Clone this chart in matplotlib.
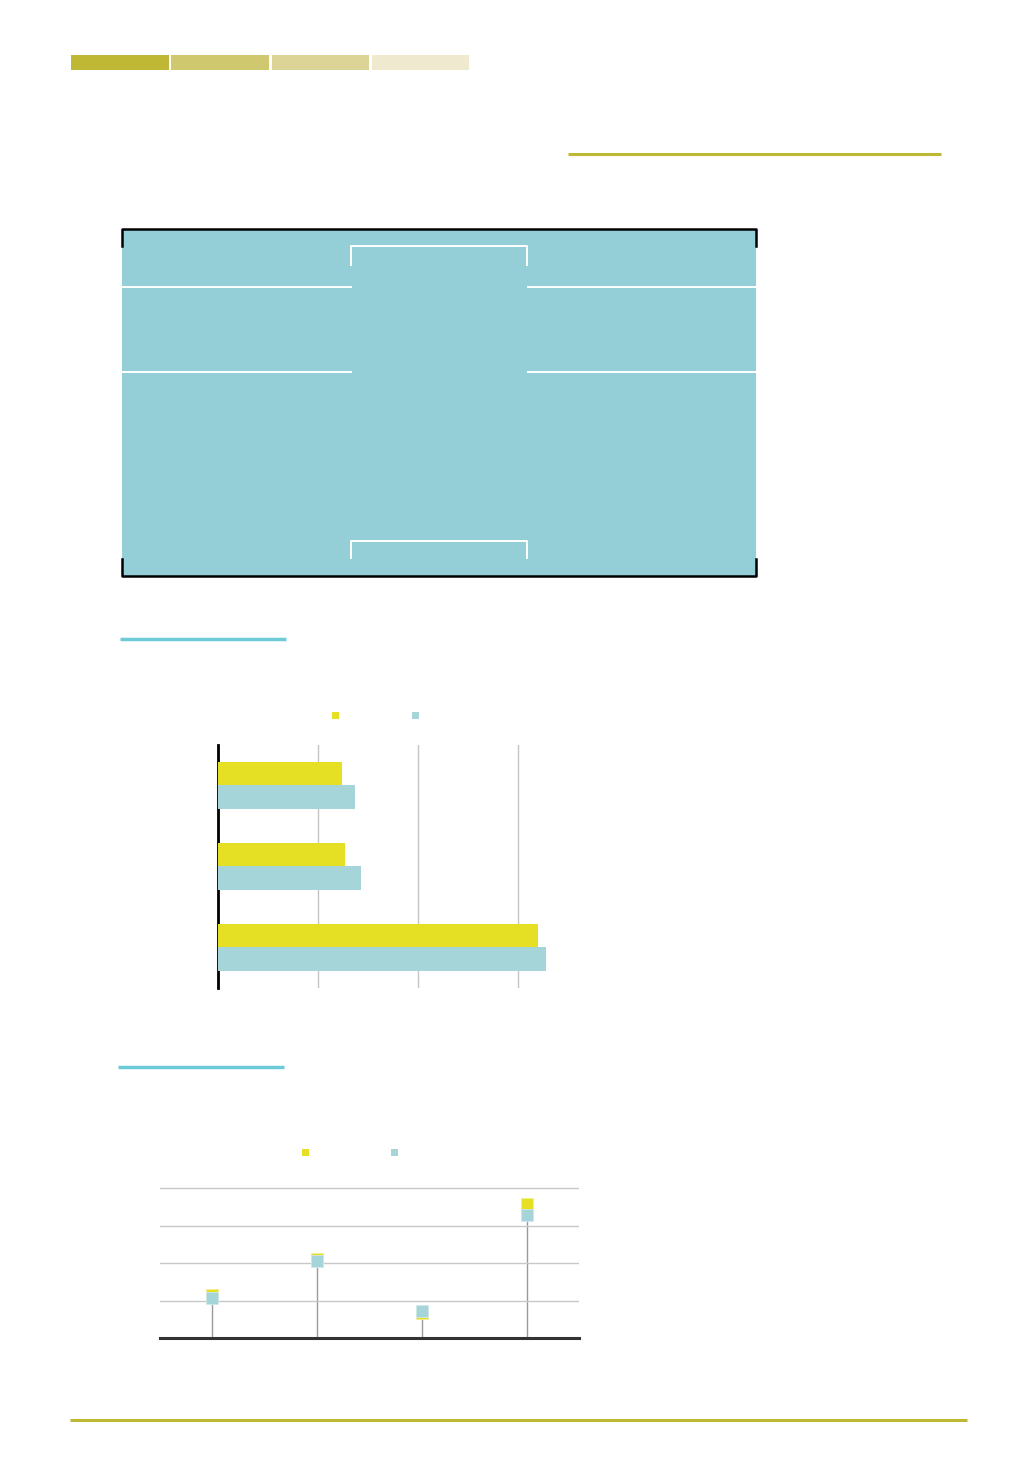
import matplotlib
matplotlib.use("Agg")
from matplotlib import pyplot as plt
from matplotlib.patches import Rectangle
import numpy as np

W, H = 1036, 1476

# bar chart data (3 groups, two series)
bar_groups = [0, 1, 2]
bar_yellow = [1.24, 1.27, 3.20]
bar_teal = [1.37, 1.43, 3.28]
bar_ticks = [0, 1, 2, 3]

# lollipop data (4 categories, two series)
dot_cats = [0, 1, 2, 3]
dot_yellow = [1.15, 2.11, 0.67, 3.57]
dot_teal = [1.07, 2.05, 0.72, 3.27]
dot_ticks = [1, 2, 3, 4]

YELLOW = "#e6e024"
TEAL = "#a6d5d9"
OLIVE = "#bfb834"
CYAN = "#6ccbd6"


def px(x0, y0, x1, y1):
    """pixel box -> figure fraction rect"""
    return [x0 / W, 1 - y1 / H, (x1 - x0) / W, (y1 - y0) / H]


fig = plt.figure(figsize=(W / 100, H / 100), dpi=100)
fig.patch.set_facecolor("white")

# background layer for page decorations (pixel coords)
bg = fig.add_axes([0, 0, 1, 1])
bg.set_xlim(0, W)
bg.set_ylim(H, 0)
bg.axis("off")

# header colour strip
strip_cols = ["#bfb834", "#cfc86f", "#dcd497", "#efe9cf"]
for i, c in enumerate(strip_cols):
    bg.add_patch(Rectangle((71 + i * 100.3, 55), 97.5, 15, color=c, lw=0))

bg.plot([568, 941], [154, 154], color=OLIVE, lw=2.2, solid_capstyle="butt")
bg.plot([70, 967], [1420, 1420], color=OLIVE, lw=2.2, solid_capstyle="butt")
bg.plot([120, 286], [639, 639], color=CYAN, lw=2.5, solid_capstyle="butt")
bg.plot([118, 284], [1067, 1067], color=CYAN, lw=2.5, solid_capstyle="butt")

# court panel
bg.add_patch(Rectangle((122, 229), 634, 347, color="#94cfd8", lw=0))
wl = dict(color="white", lw=1.4, solid_capstyle="butt")
for yy in (287, 372):
    bg.plot([122, 352], [yy, yy], **wl)
    bg.plot([527, 756], [yy, yy], **wl)
bg.plot([351, 351, 527, 527], [266, 246, 246, 266], **wl)
bg.plot([351, 351, 527, 527], [559, 541, 541, 559], **wl)
bk = dict(color="black", lw=1.8, solid_capstyle="projecting")
bg.plot([122, 122, 756, 756], [246, 229, 229, 246], **bk)
bg.plot([122, 122, 756, 756], [559, 576, 576, 559], **bk)

# legend swatches
for x, c in [(335, YELLOW), (415, TEAL)]:
    bg.add_patch(Rectangle((x - 3.5, 711.5), 7, 7, color=c, lw=0))
for x, c in [(305, YELLOW), (394, TEAL)]:
    bg.add_patch(Rectangle((x - 3.5, 1148.5), 7, 7, color=c, lw=0))

# horizontal grouped bars
ax1 = fig.add_axes(px(218, 745, 548, 988))
ax1.set_facecolor("none")
h = 0.284
y = np.array(bar_groups)
ax1.barh(y - h / 2, bar_yellow, height=h, color=YELLOW, zorder=3)
ax1.barh(y + h / 2, bar_teal, height=h, color=TEAL, zorder=3)
ax1.set_xlim(0, 3.3)
ax1.set_ylim(2.5, -0.5)
ax1.set_xticks(bar_ticks)
ax1.xaxis.grid(True, color="#c4c4c4", lw=1, zorder=0)
ax1.tick_params(length=0, labelbottom=False, labelleft=False)
ax1.set_yticks([])
for s in ("top", "right", "bottom"):
    ax1.spines[s].set_visible(False)
ax1.spines["left"].set_linewidth(2)
ax1.spines["left"].set_color("black")

# lollipop chart
ax2 = fig.add_axes(px(160, 1183, 579, 1338))
ax2.set_facecolor("none")
ax2.set_xlim(-0.5, 3.5)
ax2.set_ylim(0, (1338 - 1183) / 37.5)
ax2.set_yticks(dot_ticks)
ax2.yaxis.grid(True, color="#c8c8c8", lw=1, zorder=0)
ax2.set_xticks([])
ax2.tick_params(length=0, labelleft=False)
tops = np.maximum(dot_yellow, dot_teal)
ax2.vlines(dot_cats, 0, tops, color="#9a9a9a", lw=1, zorder=1)
ms = 12 * 0.72
ax2.plot(dot_cats, dot_yellow, "s", ms=ms, color=YELLOW, mec="#f2ee9a", mew=0.6, ls="none", zorder=3)
ax2.plot(dot_cats, dot_teal, "s", ms=ms, color=TEAL, mec="#cde9eb", mew=0.6, ls="none", zorder=4)
for s in ("top", "right", "left"):
    ax2.spines[s].set_visible(False)
ax2.spines["bottom"].set_linewidth(2.2)
ax2.spines["bottom"].set_color("#333333")

fig.savefig("out.png", dpi=100)
